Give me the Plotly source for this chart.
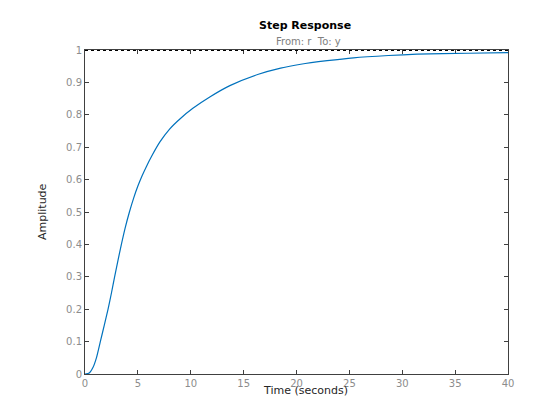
import plotly.graph_objects as go

# step response
time_s = [0, 0.4, 0.75, 1.08, 1.45, 1.82, 2.17, 2.5, 2.8, 3.12, 3.44, 3.8,
          4.2, 4.6, 5.0, 5.4, 5.8, 6.3, 7.1, 8.0, 9.0, 10.2, 11.8, 13.7,
          16.4, 18.5, 20.4, 22.9, 25.4, 28.7, 31.4, 36.2, 40]
amplitude = [0, 0.003, 0.02, 0.05, 0.1, 0.15, 0.199, 0.25, 0.3, 0.351, 0.4,
             0.451, 0.5, 0.543, 0.580, 0.612, 0.640, 0.672, 0.717, 0.756,
             0.788, 0.820, 0.855, 0.890, 0.925, 0.944, 0.956, 0.967, 0.976,
             0.983, 0.987, 0.990, 0.992]

final_value = 1.0
x_ticks = [0, 5, 10, 15, 20, 25, 30, 35, 40]
y_ticks = [0, 0.1, 0.2, 0.3, 0.4, 0.5, 0.6, 0.7, 0.8, 0.9, 1]
y_tick_text = ["0", "0.1", "0.2", "0.3", "0.4", "0.5", "0.6", "0.7", "0.8", "0.9", "1"]

font = "DejaVu Sans, sans-serif"
axis_color = "#404040"
tick_font_color = "#8c8c8c"

# the page body has an 8px margin, so the figure is drawn 8px in from the window corner
PAGE = 8
W, H = 560 - 2 * PAGE, 420 - 2 * PAGE
L, R, T, B = 85 - PAGE, 560 - 508 - PAGE, 50 - PAGE, 420 - 374 - PAGE
plot_w, plot_h = W - L - R, H - T - B


def paper_xy(px, py):
    # window pixel (from top-left) -> paper coordinates
    return (px - PAGE - L) / plot_w, 1 - (py - PAGE - T) / plot_h


fig = go.Figure()
fig.add_trace(go.Scatter(
    x=[time_s[0], time_s[-1]],
    y=[final_value, final_value],
    mode="lines",
    line=dict(color="black", width=2, dash="dot"),
    hoverinfo="skip",
))
fig.add_trace(go.Scatter(
    x=time_s,
    y=amplitude,
    mode="lines",
    line=dict(color="#0072BD", width=1.2, shape="spline", smoothing=0.6),
))

axis_common = dict(
    showgrid=False,
    zeroline=False,
    showline=True,
    linecolor=axis_color,
    linewidth=1,
    mirror="ticks",
    ticks="inside",
    ticklen=4,
    tickcolor=axis_color,
    tickfont=dict(family=font, size=10, color=tick_font_color),
    layer="below traces",
)

fig.update_xaxes(range=[0, 40], tickvals=x_ticks, **axis_common)
fig.update_yaxes(range=[0, 1], tickvals=y_ticks, ticktext=y_tick_text, **axis_common)

labels = [
    ("<b>Step Response</b>", 305, 25, 11, "black", 0),
    ("From: r  To: y", 308, 42, 10, "#808080", 0),
    ("Time (seconds)", 305.5, 390, 11, "#262626", 0),
    ("Amplitude", 42, 212, 11, "#262626", -90),
]
annotations = []
for text, px, py, size, color, angle in labels:
    ax, ay = paper_xy(px, py)
    annotations.append(dict(
        text=text, x=ax, y=ay, xref="paper", yref="paper",
        xanchor="center", yanchor="middle", textangle=angle,
        showarrow=False, font=dict(family=font, size=size, color=color),
    ))

fig.update_layout(
    width=W,
    height=H,
    showlegend=False,
    paper_bgcolor="white",
    plot_bgcolor="white",
    margin=dict(l=L, r=R, t=T, b=B),
    annotations=annotations,
)

fig.write_html("out.html")
